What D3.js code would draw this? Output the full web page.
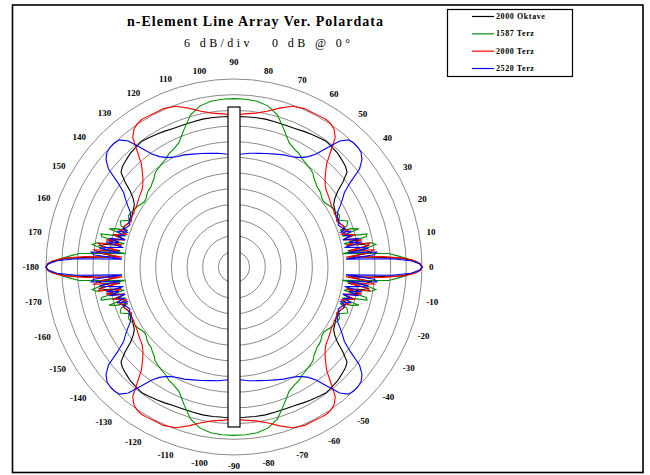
<!DOCTYPE html>
<html>
<head>
<meta charset="utf-8">
<script src="https://cdn.jsdelivr.net/npm/d3@7"></script>
<style>
  body { margin: 0; background: #fff; }
  svg { display: block; }
</style>
</head>
<body>
<svg id="chart" width="650" height="475"></svg>
<script>
// Readings for one quadrant (0..90 deg), the pattern is mirrored into the other three
const angles = [0,1,2,3,4,5,6,7,8,9,10,11,12,13,14,15,16,17,18,19,20,22,24,26,28,30,32,34,36,38,40,42,44,46,48,50,52,54,56,58,60,63,66,70,74,78,82,86,90];

const octave2000 = [0,-0.7,-3,-8,-18,-28,-19,-21,-28,-20,-22,-28,-23,-26,-28.5,-24,-27,-28.5,-26,-28,-27,
  -28,-28.5,-28.5,-28,-27.5,-27,-25.5,-23,-19,-15.5,-14.5,-14,-13.5,-13,-12.8,-12.5,-12.3,-12.6,-12.9,-13.2,-13.6,-14,-14.2,-14.2,-14.1,-14.2,-14.3,-14.3];

const terz1587 = [0,-0.8,-3.2,-6.3,-9.5,-12.5,-22,-30,-21,-17,-18.5,-27,-29,-20,-19.5,-26,-29,-22,-24.5,-29,-26,
  -25,-28,-27,-27.5,-28,-28.3,-29,-29.5,-29.3,-28.5,-28,-27.8,-27,-26.3,-25,-24.5,-24,-23.5,-23,-22,-21.2,-20,-16,-11.5,-9,-7.9,-7.6,-7.5];

const terz2000 = [0,-0.6,-2.7,-7,-15,-29,-20,-18,-27,-21,-19,-28,-22,-25,-29,-24,-27,-29,-26,-28,-27,
  -28,-29,-28,-28.5,-28,-28,-27.5,-27,-26.5,-26,-25,-23.5,-21.5,-19,-14.5,-9,-6.8,-5.8,-5.4,-5.5,-5.7,-5.6,-6.5,-8.7,-11,-12.5,-13.2,-13.8];

const terz2520 = [0,-1,-4.2,-11.5,-29,-18,-17,-28,-20,-24,-29,-22,-27,-23,-29,-26,-28,-25,-29,-27,-28,
  -29,-28,-28,-27,-25,-23,-21,-17,-11,-8,-6.5,-6,-6,-6.5,-9,-14,-18.5,-21,-22.5,-23.5,-24.5,-25,-26,-26.8,-27.5,-28,-28.6,-28.8];

const seriesNames = ["2000 Oktave", "1587 Terz", "2000 Terz", "2520 Terz"];
const seriesColors = ["#000000", "#009000", "#ff0000", "#0000ff"];
const seriesValues = [octave2000, terz1587, terz2000, terz2520];

const ringLevels = d3.range(-66, 1, 6);          // 6 dB/div
const angleTicks = d3.range(-170, 181, 10);      // degree labels

const title = "n-Element Line Array Ver. Polardata";
const subtitle = "6 dB/div   0 dB @ 0\u00b0";

const cx = 234, cy = 267, R = 188;
const serif = "'Liberation Serif', 'DejaVu Serif', serif";

const svg = d3.select("#chart");

// frame
svg.append("rect")
  .attr("x", 12.5).attr("y", 5)
  .attr("width", 630.5).attr("height", 467.5)
  .attr("fill", "#fff")
  .attr("stroke", "#000")
  .attr("stroke-width", 1.6);

// titles
svg.append("text")
  .attr("x", 255).attr("y", 26)
  .attr("text-anchor", "middle")
  .attr("font-family", serif)
  .attr("font-weight", "bold")
  .attr("font-size", 14)
  .attr("textLength", 256)
  .attr("lengthAdjust", "spacing")
  .text(title);

svg.append("text")
  .attr("x", 267).attr("y", 47)
  .attr("text-anchor", "middle")
  .attr("font-family", serif)
  .attr("font-size", 12)
  .attr("textLength", 166)
  .attr("lengthAdjust", "spacing")
  .style("white-space", "pre")
  .text(subtitle);

const r = d3.scaleLinear().domain([-72, 0]).range([0, R]);
const g = svg.append("g").attr("transform", `translate(${cx},${cy})`);

// rings
g.append("g").selectAll("circle")
  .data(ringLevels)
  .enter()
  .append("circle")
  .attr("r", d => r(d))
  .attr("fill", "none")
  .attr("stroke", "#8a8a8a")
  .attr("stroke-width", 1);

// angle labels
const labels = g.append("g").selectAll("text")
  .data(angleTicks)
  .enter()
  .append("text")
  .attr("font-family", serif)
  .attr("font-weight", "bold")
  .attr("font-size", 9)
  .attr("text-anchor", "middle")
  .attr("dominant-baseline", "central")
  .text(d => d === 180 ? "-180" : String(d));

labels.each(function(d) {
  const w = this.getComputedTextLength();
  const a = d * Math.PI / 180;
  let rr = 195 + 0.5 * w * Math.abs(Math.cos(a)) + 3 * Math.abs(Math.sin(a));
  if (d === 90) rr += 7;
  if (d === -90) rr += 1;
  d3.select(this)
    .attr("x", rr * Math.cos(a))
    .attr("y", -rr * Math.sin(a));
});

// mirror the quadrant into a full closed loop
function fullLoop(vals) {
  const pts = [];
  angles.forEach((a, i) => pts.push([a, vals[i]]));
  for (let i = angles.length - 2; i >= 0; i--) pts.push([180 - angles[i], vals[i]]);
  for (let i = 1; i < angles.length; i++) pts.push([180 + angles[i], vals[i]]);
  for (let i = angles.length - 2; i > 0; i--) pts.push([360 - angles[i], vals[i]]);
  return pts;
}

const line = d3.lineRadial()
  .angle(d => (90 - d[0]) * Math.PI / 180)
  .radius(d => r(Math.max(-72, d[1])))
  .curve(d3.curveLinearClosed);

g.append("g").selectAll("path")
  .data(seriesValues)
  .enter()
  .append("path")
  .attr("d", d => line(fullLoop(d)))
  .attr("fill", "none")
  .attr("stroke", (d, i) => seriesColors[i])
  .attr("stroke-width", 1.1);

// the array itself, drawn over the curves
const half = r(-72 + 72 * 0.851);
g.append("rect")
  .attr("x", -6).attr("y", -half)
  .attr("width", 12).attr("height", 2 * half)
  .attr("fill", "#fff")
  .attr("stroke", "#000")
  .attr("stroke-width", 1.2);

// legend
const legend = svg.append("g");
legend.append("rect")
  .attr("x", 447.5).attr("y", 9.5)
  .attr("width", 125).attr("height", 67)
  .attr("fill", "#fff")
  .attr("stroke", "#000")
  .attr("stroke-width", 1.2);

const legendY = d3.scalePoint().domain(seriesNames).range([16.5, 68.5]);
const item = legend.selectAll("g.item")
  .data(seriesNames)
  .enter()
  .append("g")
  .attr("class", "item")
  .attr("transform", d => `translate(0,${legendY(d)})`);

item.append("line")
  .attr("x1", 472).attr("x2", 494)
  .attr("stroke", (d, i) => seriesColors[i])
  .attr("stroke-width", 1.2);

item.append("text")
  .attr("x", 496)
  .attr("dy", "0.33em")
  .attr("font-family", serif)
  .attr("font-weight", "bold")
  .attr("font-size", 8)
  .attr("letter-spacing", 0.6)
  .text(d => d);
</script>
</body>
</html>
